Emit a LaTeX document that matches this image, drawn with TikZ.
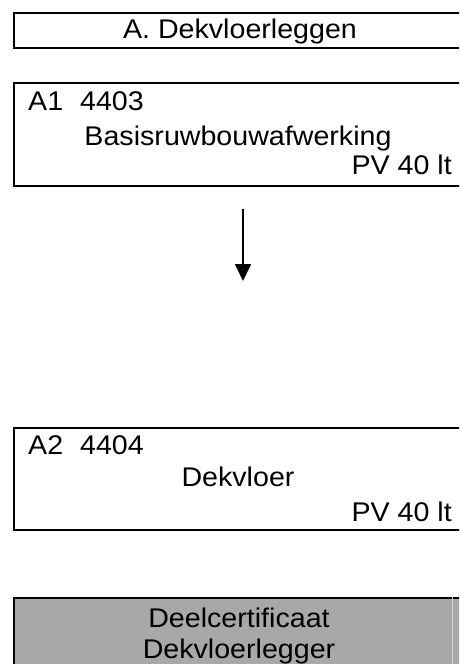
\documentclass[tikz,border=0pt]{standalone}
\usepackage{fontspec}
\setmainfont{Liberation Sans}[FakeStretch=1.06]
\usepackage{xcolor}
\usepackage{tikz}
\usetikzlibrary{arrows.meta}
\definecolor{certgrijs}{RGB}{168,168,168}
\definecolor{celrand}{RGB}{212,212,212}

\begin{document}
\begin{tikzpicture}[
  x=1pt, y=1pt,
  font=\fontsize{27}{32}\selectfont,
  box/.style={rectangle, draw=black, line width=2.4pt, fill=white,
              anchor=north west, inner sep=0pt, minimum width=455pt},
  grijsbox/.style={box, fill=certgrijs},
  txt/.style={inner sep=0pt},
  arr/.style={-{Triangle[length=17pt,width=16pt]}, line width=1.7pt},
]

%% ---- Frame ----
\path[use as bounding box, clip] (0,0) rectangle (459,-664);

%% ---- Title ----
\node[box, minimum height=35.5pt] (titel) at (12.5,-11.5) {};
\node[txt, anchor=base] (titeltekst) at (240,-38.5) {A. Dekvloerleggen};

%% ---- Module A1 ----
\node[box, minimum height=103pt] (a1) at (12.5,-82) {};
\node[txt, anchor=base west] (a1code) at (28,-110)
  {A1\hspace{17pt}4403};
\node[txt, anchor=base] (a1naam) at (238,-145)
  {Basisruwbouwafwerking};
\node[txt, anchor=base east] (a1pv) at (452,-174)
  {PV 40 lt};

%% ---- Arrow ----
\coordinate (pijlbegin) at (243,-209);
\coordinate (pijleind)  at (243,-281);
\draw[arr] (pijlbegin) -- (pijleind);

%% ---- Module A2 ----
\node[box, minimum height=101.5pt] (a2) at (12.5,-427) {};
\node[txt, anchor=base west] (a2code) at (28,-454)
  {A2\hspace{17pt}4404};
\node[txt, anchor=base] (a2naam) at (238,-486)
  {Dekvloer};
\node[txt, anchor=base east] (a2pv) at (452,-521)
  {PV 40 lt};

%% ---- Certificate ----
\node[grijsbox, minimum height=100pt] (cert) at (12.5,-597) {};
\draw[celrand, line width=1pt] ([xshift=440pt]cert.north west)
  -- ([xshift=440pt]cert.south west);
\node[txt, anchor=base] (certr1) at (239,-627) {Deelcertificaat};
\node[txt, anchor=base] (certr2) at (239,-658) {Dekvloerlegger};

\end{tikzpicture}
\end{document}
